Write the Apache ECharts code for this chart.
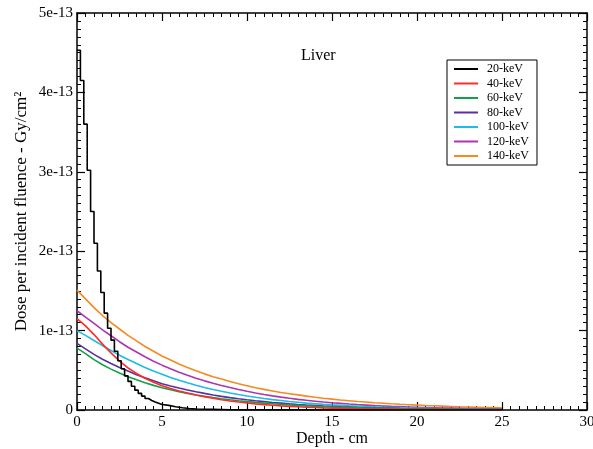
<!DOCTYPE html>
<html>
<head>
<meta charset="utf-8">
<script src="https://cdn.jsdelivr.net/npm/echarts@6/dist/echarts.min.js"></script>
<style>html,body{margin:0;padding:0;background:#fff;}#c{width:593px;height:449px;}</style>
</head>
<body>
<div id="c"></div>
<script>
// Values in units of 1e-13 Gy/cm^2
const depth20 = [0,0.2,0.4,0.6,0.8,1.0,1.2,1.4,1.6,1.8,2.0,2.2,2.4,2.6,2.8,3.0,3.2,3.4,3.6,3.8,4.0,4.2,4.4,4.6,4.8,5.0,5.4,5.8,6.2,6.6,7.0,8,9,10,12,15,20,25];
const dose20 = [4.53,4.15,3.60,3.02,2.50,2.10,1.75,1.48,1.22,1.03,0.88,0.74,0.62,0.52,0.43,0.36,0.30,0.25,0.21,0.175,0.145,0.12,0.10,0.085,0.07,0.058,0.04,0.028,0.019,0.013,0.009,0.004,0.002,0.001,0.0004,0.0001,0,0];
const depth = [0,0.5,1,1.5,2,2.5,3,3.5,4,4.5,5,5.5,6,6.5,7,7.5,8,8.5,9,9.5,10,10.5,11,11.5,12,12.5,13,13.5,14,14.5,15,15.5,16,16.5,17,17.5,18,18.5,19,19.5,20,20.5,21,21.5,22,22.5,23,23.5,24,24.5,25];
const dose40 = [1.15,1.06,0.95,0.83,0.72,0.615,0.53,0.46,0.40,0.35,0.305,0.27,0.24,0.213,0.19,0.168,0.148,0.13,0.114,0.1,0.088,0.077,0.068,0.06,0.052,0.046,0.04,0.035,0.031,0.027,0.024,0.021,0.018,0.016,0.014,0.012,0.011,0.0095,0.0083,0.0072,0.0063,0.0055,0.0048,0.0042,0.0037,0.0032,0.0028,0.0024,0.0021,0.0018,0.0016];
const dose60 = [0.78,0.71,0.635,0.57,0.515,0.465,0.42,0.38,0.343,0.31,0.28,0.254,0.23,0.209,0.19,0.172,0.156,0.142,0.129,0.117,0.106,0.096,0.087,0.079,0.071,0.064,0.058,0.052,0.047,0.042,0.038,0.034,0.031,0.028,0.025,0.022,0.02,0.018,0.016,0.014,0.013,0.012,0.011,0.01,0.009,0.008,0.007,0.0063,0.0057,0.005,0.0045];
const dose80 = [0.84,0.77,0.70,0.64,0.585,0.535,0.49,0.445,0.405,0.367,0.33,0.302,0.276,0.252,0.23,0.209,0.19,0.172,0.156,0.142,0.129,0.117,0.106,0.095,0.086,0.077,0.069,0.062,0.056,0.05,0.045,0.04,0.036,0.032,0.029,0.026,0.023,0.021,0.018,0.016,0.015,0.013,0.012,0.01,0.009,0.008,0.007,0.0065,0.006,0.005,0.0045];
const dose100 = [1.00,0.94,0.875,0.81,0.75,0.69,0.635,0.585,0.535,0.49,0.45,0.41,0.375,0.342,0.312,0.284,0.259,0.236,0.214,0.195,0.177,0.16,0.145,0.131,0.119,0.107,0.097,0.087,0.079,0.071,0.064,0.058,0.052,0.047,0.042,0.038,0.034,0.031,0.028,0.025,0.022,0.02,0.018,0.016,0.014,0.013,0.012,0.011,0.01,0.009,0.008];
const dose120 = [1.25,1.17,1.09,1.01,0.935,0.86,0.79,0.73,0.67,0.615,0.565,0.52,0.475,0.437,0.40,0.367,0.337,0.309,0.283,0.259,0.236,0.215,0.196,0.178,0.162,0.147,0.134,0.122,0.111,0.1,0.091,0.083,0.075,0.068,0.062,0.056,0.051,0.046,0.042,0.038,0.034,0.031,0.028,0.025,0.023,0.021,0.019,0.017,0.016,0.014,0.013];
const dose140 = [1.51,1.40,1.29,1.19,1.10,1.02,0.94,0.87,0.80,0.74,0.68,0.63,0.58,0.535,0.495,0.455,0.42,0.39,0.36,0.33,0.305,0.28,0.26,0.24,0.22,0.205,0.19,0.175,0.16,0.148,0.137,0.126,0.117,0.108,0.1,0.092,0.085,0.078,0.072,0.067,0.062,0.057,0.053,0.049,0.045,0.041,0.038,0.035,0.032,0.03,0.028];
const seriesNames = ['20-keV','40-keV','60-keV','80-keV','100-keV','120-keV','140-keV'];
const seriesColors = ['#000000','#ff2a2a','#12a146','#5a2f9e','#1dbbe6','#ad36ad','#f6891f'];
const xTicks = [0,5,10,15,20,25,30];

const font = 'Liberation Serif';
function pairs(xs, ys){ return xs.map((x,i)=>[x, ys[i]]); }
const allData = [pairs(depth20,dose20), pairs(depth,dose40), pairs(depth,dose60), pairs(depth,dose80), pairs(depth,dose100), pairs(depth,dose120), pairs(depth,dose140)];

const chart = echarts.init(document.getElementById('c'), null, {renderer:'canvas'});
const axisLineStyle = {color:'#000', width:1.5};
function xAx(pos, labels){
  return {
    type:'value', position:pos, min:0, max:30, interval:5,
    axisLine:{show:true, onZero:false, lineStyle:axisLineStyle},
    axisTick:{show:true, inside:true, length:8, lineStyle:{color:'#000', width:1.2}},
    minorTick:{show:true, splitNumber:10, length:4, lineStyle:{color:'#000', width:1}},
    splitLine:{show:false}, minorSplitLine:{show:false},
    axisLabel:{show:labels, color:'#000', fontFamily:font, fontSize:15, margin:5, formatter: v => xTicks.includes(v) ? String(v) : ''},
    name: labels ? 'Depth - cm' : '', nameLocation:'middle', nameGap:21, nameMoveOverlap:false,
    nameTextStyle:{color:'#000', fontFamily:font, fontSize:16}
  };
}
function yAx(pos, labels){
  return {
    type:'value', position:pos, min:0, max:5, interval:1,
    axisLine:{show:true, onZero:false, lineStyle:axisLineStyle},
    axisTick:{show:true, inside:true, length:8, lineStyle:{color:'#000', width:1.2}},
    minorTick:{show:true, splitNumber:10, length:4, lineStyle:{color:'#000', width:1}},
    splitLine:{show:false}, minorSplitLine:{show:false},
    axisLabel:{show:labels, color:'#000', fontFamily:font, fontSize:15, margin:4, formatter: v => v === 0 ? '0' : v + 'e-13'},
    name: labels ? 'Dose per incident fluence - Gy/cm²' : '', nameLocation:'middle', nameGap:47, nameMoveOverlap:false,
    nameTextStyle:{color:'#000', fontFamily:font, fontSize:17}
  };
}
chart.setOption({
  backgroundColor:'#fff',
  animation:false,
  title:{text:'Liver', left:296, top:43, textStyle:{color:'#000', fontFamily:font, fontSize:16, fontWeight:'normal'}},
  grid:{left:77, right:6, top:13, bottom:39, containLabel:false, outerBoundsMode:'none'},
  xAxis:[xAx('bottom', true), xAx('top', false)],
  yAxis:[yAx('left', true), yAx('right', false)],
  legend:{
    orient:'vertical', left:447, top:60, padding:[3,8,3,7],
    borderColor:'#000', borderWidth:1, backgroundColor:'#fff',
    icon:'rect', itemWidth:24, itemHeight:2, itemGap:2.5,
    textStyle:{color:'#000', fontFamily:font, fontSize:12, padding:[0,0,0,4]},
    data: seriesNames
  },
  series: seriesNames.map((n,i)=>({
    name:n, type:'line', data: allData[i], xAxisIndex:0, yAxisIndex:0,
    symbol:'none', showSymbol:false, step: i===0 ? 'end' : false,
    lineStyle:{color:seriesColors[i], width:1.6}, itemStyle:{color:seriesColors[i]},
    z: 10 - i
  }))
});
</script>
</body>
</html>
